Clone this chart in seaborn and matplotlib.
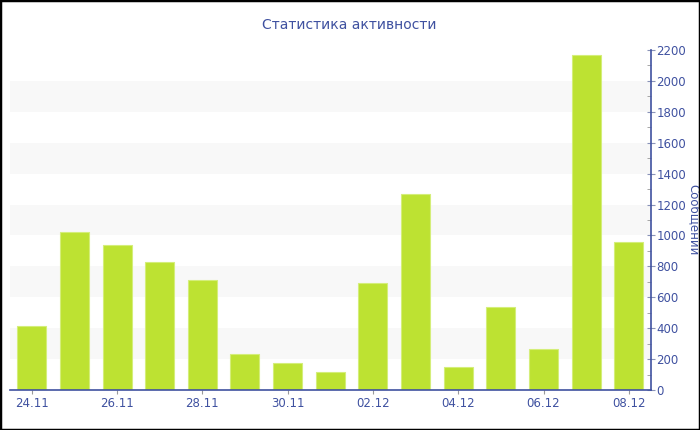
# Статистика активности - bar chart of daily messages
import pandas as pd
import numpy as np
import matplotlib
matplotlib.use('Agg')
import matplotlib.pyplot as plt
import seaborn as sns

# Data
dates = ['24.11', '25.11', '26.11', '27.11', '28.11', '29.11', '30.11', '01.12',
         '02.12', '03.12', '04.12', '05.12', '06.12', '07.12', '08.12']
messages = [412, 1020, 940, 828, 712, 233, 172, 116,
            692, 1268, 147, 535, 263, 2168, 958]
shown_labels = ['24.11', '26.11', '28.11', '30.11', '02.12', '04.12', '06.12', '08.12']

df = pd.DataFrame({'date': dates, 'messages': messages})

sns.set_style('white')
plt.rcParams['font.family'] = ['DejaVu Sans']

blue = '#3f51a0'
bar_color = '#bde232'

fig = plt.figure(figsize=(7, 4.3), dpi=100)
ax = fig.add_axes([10 / 700, 1 - 390 / 430, 641 / 700, 340 / 430])

# alternating background bands
for lo in range(200, 2200, 400):
    ax.axhspan(lo, lo + 200, color='#f8f8f8', zorder=0, lw=0)

sns.barplot(data=df, x='date', y='messages', color=bar_color, width=0.68,
            saturation=1, edgecolor='#d4ee7a', linewidth=0.8, ax=ax, zorder=2)

ax.set_xlim(-0.51, 14.52)
ax.set_ylim(0, 2200)

# x ticks only on every other day
pos = [dates.index(d) for d in shown_labels]
ax.set_xticks(pos)
ax.set_xticklabels(shown_labels)
ax.set_xlabel('')

# y axis on the right side
ax.yaxis.tick_right()
ax.yaxis.set_label_position('right')
ax.set_yticks(np.arange(0, 2201, 200))
ax.set_yticks(np.arange(100, 2200, 200), minor=True)
ax.set_ylabel('Сообщений', rotation=270, color=blue, fontsize=8.5, labelpad=10)

for s in ['left', 'top']:
    ax.spines[s].set_visible(False)
for s in ['right', 'bottom']:
    ax.spines[s].set_visible(True)
    ax.spines[s].set_color(blue)
    ax.spines[s].set_linewidth(1.2)

ax.tick_params(axis='x', which='major', direction='out', length=3, color='#999999',
               labelcolor=blue, labelsize=8.5, pad=2, bottom=True)
ax.tick_params(axis='y', which='major', direction='inout', length=6, color='#8a93b8',
               labelcolor=blue, labelsize=8.5, pad=1, right=True, left=False)
ax.tick_params(axis='y', which='minor', direction='in', length=3, color='#999999',
               right=True, left=False)

fig.text(349 / 700, 1 - 25 / 430, 'Статистика активности', ha='center', va='center',
         color=blue, fontsize=10)

# black frame around the picture
fig.patches.append(plt.Rectangle((0, 0), 1, 1, transform=fig.transFigure,
                                 fill=False, edgecolor='black', linewidth=2.5))

fig.savefig('out.png', dpi=100)
